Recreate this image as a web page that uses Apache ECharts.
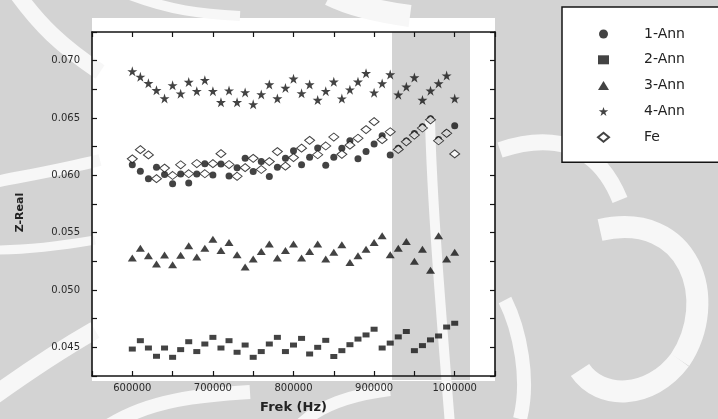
<!DOCTYPE html>
<html>
<head>
<meta charset="utf-8">
<script src="https://cdn.jsdelivr.net/npm/echarts@6/dist/echarts.min.js"></script>
<style>
  html, body { margin: 0; padding: 0; background: #ffffff; }
  #chart { width: 718px; height: 419px; }
</style>
</head>
<body>
<div id="chart"></div>
<script>
// Frequency sweep (Hz)
const freq = [
  600000, 610000, 620000, 630000, 640000, 650000, 660000, 670000, 680000, 690000,
  700000, 710000, 720000, 730000, 740000, 750000, 760000, 770000, 780000, 790000,
  800000, 810000, 820000, 830000, 840000, 850000, 860000, 870000, 880000, 890000,
  900000, 910000, 920000, 930000, 940000, 950000, 960000, 970000, 980000, 990000,
  1000000
];

// Real part of impedance for each sample
const ann1 = [
  0.06092, 0.06035, 0.05971, 0.06070, 0.06007, 0.05927, 0.06012, 0.05934, 0.06011, 0.06100,
  0.06003, 0.06098, 0.05994, 0.06066, 0.06150, 0.06034, 0.06120, 0.05990, 0.06070, 0.06148,
  0.06215, 0.06092, 0.06157, 0.06239, 0.06089, 0.06158, 0.06237, 0.06302, 0.06144, 0.06207,
  0.06273, 0.06346, 0.06178, 0.06237, 0.06299, 0.06364, 0.06423, 0.06494, 0.06312, 0.06369,
  0.06432
];
const ann2 = [
  0.04485, 0.04558, 0.04494, 0.04422, 0.04494, 0.04413, 0.04480, 0.04549, 0.04463, 0.04529,
  0.04587, 0.04494, 0.04558, 0.04457, 0.04520, 0.04413, 0.04463, 0.04529, 0.04587, 0.04463,
  0.04520, 0.04578, 0.04442, 0.04500, 0.04561, 0.04420, 0.04471, 0.04523, 0.04572, 0.04608,
  0.04658, 0.04494, 0.04537, 0.04591, 0.04638, 0.04471, 0.04515, 0.04565, 0.04599, 0.04677,
  0.04710
];
const ann3 = [
  0.05279, 0.05365, 0.05298, 0.05227, 0.05305, 0.05221, 0.05302, 0.05385, 0.05287, 0.05365,
  0.05443, 0.05345, 0.05415, 0.05307, 0.05201, 0.05270, 0.05336, 0.05402, 0.05279, 0.05345,
  0.05402, 0.05279, 0.05336, 0.05402, 0.05270, 0.05330, 0.05394, 0.05240, 0.05298, 0.05356,
  0.05414, 0.05473, 0.05307, 0.05365, 0.05423, 0.05250, 0.05356, 0.05172, 0.05473, 0.05270,
  0.05330
];
const ann4 = [
  0.06907, 0.06859, 0.06803, 0.06742, 0.06671, 0.06785, 0.06712, 0.06814, 0.06734, 0.06830,
  0.06734, 0.06637, 0.06739, 0.06637, 0.06723, 0.06619, 0.06706, 0.06792, 0.06670, 0.06762,
  0.06842, 0.06715, 0.06792, 0.06657, 0.06734, 0.06816, 0.06669, 0.06747, 0.06816, 0.06890,
  0.06721, 0.06801, 0.06879, 0.06703, 0.06772, 0.06853, 0.06657, 0.06738, 0.06801, 0.06870,
  0.06669
];
const fe = [
  0.06144, 0.06224, 0.06178, 0.05971, 0.06063, 0.05999, 0.06092, 0.06014, 0.06103, 0.06014,
  0.06102, 0.06189, 0.06094, 0.05992, 0.06067, 0.06148, 0.06051, 0.06120, 0.06207, 0.06080,
  0.06155, 0.06237, 0.06305, 0.06180, 0.06256, 0.06334, 0.06183, 0.06263, 0.06323, 0.06399,
  0.06468, 0.06311, 0.06380, 0.06226, 0.06292, 0.06351, 0.06413, 0.06484, 0.06302, 0.06367,
  0.06187
];

const seriesNames = ['1-Ann', '2-Ann', '3-Ann', '4-Ann', 'Fe'];
const xLabelTicks = [600000, 700000, 800000, 900000, 1000000];
const yLabelTicks = [0.045, 0.050, 0.055, 0.060, 0.065, 0.070];

const STAR = 'path://M50,0 L61.2,34.5 L97.6,34.5 L68.2,55.9 L79.4,90.5 L50,69.1 L20.6,90.5 L31.8,55.9 L2.4,34.5 L38.8,34.5 Z';
const INK = '#141414';
const SHADE = '#d3d3d3';
const PALE = '#f7f7f7';

function pairs(ys) {
  return freq.map((f, i) => [f, ys[i]]);
}

// Faint backdrop pattern behind the plot
function band(x1, y1, cx1, cy1, cx2, cy2, x2, y2, w) {
  return { type: 'bezierCurve', z: -5, silent: true,
           shape: { x1: x1, y1: y1, cpx1: cx1, cpy1: cy1, cpx2: cx2, cpy2: cy2, x2: x2, y2: y2 },
           style: { fill: null, stroke: PALE, lineWidth: w } };
}
function block(x, y, w, h) {
  return { type: 'rect', z: -6, silent: true, shape: { x: x, y: y, width: w, height: h },
           style: { fill: SHADE } };
}
const backdrop = [
  block(0, 0, 92, 419),
  block(92, 0, 403, 18),
  block(495, 0, 223, 419),
  block(92, 381, 403, 38),
  block(392, 32, 78, 348),
  band(18, -5, 40, 25, 60, 45, 100, 72, 16),
  band(-5, 182, 30, 175, 60, 170, 100, 160, 12),
  band(-5, 250, 30, 250, 60, 246, 95, 240, 9),
  band(-5, 395, 30, 370, 60, 350, 95, 330, 18),
  band(130, -5, 170, 10, 200, 14, 240, 16, 10),
  band(330, -5, 350, 5, 380, 12, 410, 16, 22),
  band(430, 120, 432, 200, 440, 300, 450, 425, 10),
  band(500, 150, 560, 130, 600, 150, 620, 200, 16),
  band(600, 230, 690, 210, 720, 300, 680, 360, 22),
  band(680, 360, 650, 400, 600, 400, 580, 370, 22),
  band(520, 419, 530, 380, 520, 330, 505, 300, 14),
  band(110, 425, 150, 400, 200, 395, 250, 392, 14),
  band(300, 425, 320, 405, 350, 395, 390, 390, 12)
];

const frameLine = { show: true, onZero: false, lineStyle: { color: INK, width: 1.6 } };
const innerTick = { show: true, inside: true, length: 5, lineStyle: { color: INK, width: 1.2 } };
const labelFont = { color: '#2a2a2a', fontFamily: 'DejaVu Sans', fontSize: 10 };

const xBase = { type: 'value', min: 550000, max: 1050000, interval: 50000, splitLine: { show: false }, axisLine: frameLine, axisTick: innerTick };
const yBase = { type: 'value', min: 0.0425, max: 0.0725, interval: 0.0025, splitLine: { show: false }, axisLine: frameLine, axisTick: innerTick };

const option = {
  backgroundColor: '#ffffff',
  animation: false,
  graphic: { elements: backdrop },
  grid: { left: 92, right: 223, top: 32, bottom: 40 },
  legend: {
    orient: 'vertical',
    left: 562, top: 7,
    padding: [19, 40, 17, 35],
    itemWidth: 11, itemHeight: 9, itemGap: 9.8,
    borderColor: INK, borderWidth: 1.5, backgroundColor: '#ffffff',
    textStyle: { color: '#222', fontFamily: 'DejaVu Sans', fontSize: 14, lineHeight: 16, padding: [0, 0, 0, 30] },
    data: seriesNames
  },
  xAxis: [
    Object.assign({}, xBase, {
      position: 'bottom',
      axisLabel: Object.assign({}, labelFont, {
        margin: 7,
        formatter: v => xLabelTicks.indexOf(v) >= 0 ? String(v) : ''
      }),
      name: 'Frek (Hz)', nameLocation: 'middle', nameGap: 25,
      nameTextStyle: { color: '#222', fontFamily: 'DejaVu Sans', fontSize: 13, fontWeight: 'bold' }
    }),
    Object.assign({}, xBase, { position: 'top', axisLabel: { show: false } })
  ],
  yAxis: [
    Object.assign({}, yBase, {
      position: 'left',
      axisLabel: Object.assign({}, labelFont, {
        margin: 12,
        formatter: v => yLabelTicks.some(t => Math.abs(t - v) < 1e-9) ? v.toFixed(3) : ''
      }),
      name: 'Z-Real', nameLocation: 'middle', nameGap: 66, nameRotate: 90,
      nameTextStyle: { color: '#222', fontFamily: 'DejaVu Sans', fontSize: 11, fontWeight: 'bold', padding: [0, 17, 0, 0] }
    }),
    Object.assign({}, yBase, { position: 'right', axisLabel: { show: false } })
  ],
  series: [
    { name: '1-Ann', type: 'scatter', data: pairs(ann1), symbol: 'circle', symbolSize: 7,
      itemStyle: { color: INK } },
    { name: '2-Ann', type: 'scatter', data: pairs(ann2), symbol: 'rect', symbolSize: [7, 5],
      itemStyle: { color: INK } },
    { name: '3-Ann', type: 'scatter', data: pairs(ann3), symbol: 'triangle', symbolSize: [9, 7],
      itemStyle: { color: INK } },
    { name: '4-Ann', type: 'scatter', data: pairs(ann4), symbol: STAR, symbolSize: 10,
      itemStyle: { color: INK } },
    { name: 'Fe', type: 'scatter', data: pairs(fe), symbol: 'diamond', symbolSize: [10, 8],
      itemStyle: { color: '#ffffff', borderColor: INK, borderWidth: 1 } }
  ]
};

const chart = echarts.init(document.getElementById('chart'), null, { renderer: 'canvas' });
chart.setOption(option);
</script>
</body>
</html>
